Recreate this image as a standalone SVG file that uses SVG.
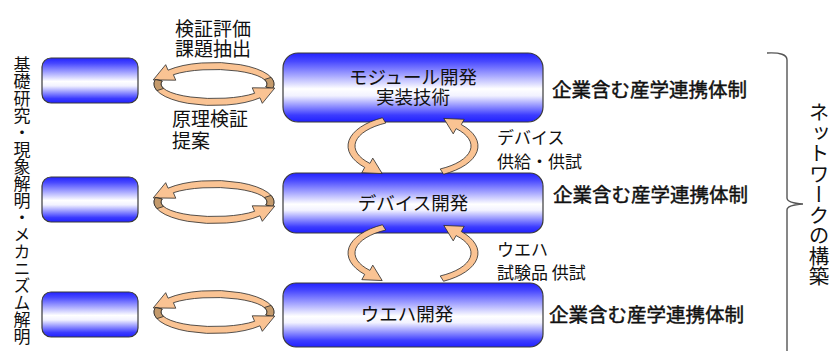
<svg xmlns="http://www.w3.org/2000/svg" width="839" height="351" viewBox="0 0 839 351">
<style>
.box{fill:url(#bg);stroke:#3a3a3a;stroke-width:1.2}
.t{font-family:"Noto Sans CJK JP","Noto Sans CJK SC",sans-serif;fill:#111}
.b{stroke:#111;stroke-width:0.45}
.arr{fill:#fac393;stroke:#2a2a2a;stroke-width:0.8;stroke-linejoin:round}
.dk{fill:#c49a6c;stroke:#2a2a2a;stroke-width:0.8;stroke-linejoin:round}
</style>
<defs>
<linearGradient id="bg" x1="0" y1="0" x2="0" y2="1">
<stop offset="0" stop-color="#2222ff"/>
<stop offset="0.12" stop-color="#4848ff"/>
<stop offset="0.52" stop-color="#ffffff"/>
<stop offset="0.62" stop-color="#f2f2ff"/>
<stop offset="0.9" stop-color="#3c3cff"/>
<stop offset="1" stop-color="#2020ff"/>
</linearGradient>
<g id="hband">
<path class="arr" d="M58.69,4.47 A60 21.5 0 0 0 -45.96,-13.82 L-48.32,-19.34 L-60.76,-4.1 L-38.24,-3.8 L-40.6,-9.32 A53 14.5 0 0 1 51.84,3.01 Z"/>
<path class="dk" d="M58.69,4.47 A60 21.5 0 0 0 57.06,-6.64 L50.41,-4.48 A53 14.5 0 0 1 51.84,3.01 Z"/>
</g>
<g id="hcyc">
<use href="#hband"/>
<use href="#hband" transform="rotate(180)"/>
</g>
<path id="vband" class="arr" d="M-30.52,-28.25 A65 32 0 0 0 -48.3,21.41 L-51.18,26.67 L-30.8,27.56 L-40.22,12.14 L-43.1,17.4 A58 26 0 0 1 -27.23,-22.96 Z"/>
<g id="vcyc">
<use href="#vband"/>
<use href="#vband" transform="rotate(180)"/>
</g>
</defs>
<rect width="839" height="351" fill="#ffffff"/>

<g id="left-label">
<text class="t" x="22" y="56" font-size="17" style="writing-mode:vertical-rl">基礎研究・現象解明・メカニズム解明</text>
</g>

<g id="basic1"><rect class="box" x="42" y="58" width="96" height="45" rx="9"/></g>
<g id="basic2"><rect class="box" x="42" y="177" width="96" height="45" rx="9"/></g>
<g id="basic3"><rect class="box" x="42" y="292" width="96" height="45" rx="9"/></g>

<g id="module">
<rect class="box" x="283" y="53" width="260" height="69" rx="15"/>
<text class="t" x="413" y="84" font-size="18.5" text-anchor="middle">モジュール開発</text>
<text class="t" x="413" y="104" font-size="18.5" text-anchor="middle">実装技術</text>
</g>
<g id="device">
<rect class="box" x="283" y="173" width="260" height="60" rx="13"/>
<text class="t" x="413" y="210" font-size="18.5" text-anchor="middle">デバイス開発</text>
</g>
<g id="wafer">
<rect class="box" x="283" y="283" width="260" height="64" rx="13"/>
<text class="t" x="407" y="321" font-size="18.5" text-anchor="middle">ウエハ開発</text>
</g>

<g id="connectors">
<use href="#hcyc" transform="translate(214,84)"/>
<use href="#hcyc" transform="translate(214,202)"/>
<use href="#hcyc" transform="translate(214,312)"/>
<use href="#vcyc" transform="translate(413,146)"/>
<use href="#vcyc" transform="translate(413,253)"/>
<path d="M767,53 Q787,52 787,60 L787,198 Q787,203 803,204 Q787,205 787,210 L787,351" fill="none" stroke="#555" stroke-width="1.4"/>
</g>

<g id="labels">
<text class="t" x="175" y="36" font-size="19">検証評価</text>
<text class="t" x="175" y="56" font-size="19">課題抽出</text>
<text class="t" x="172" y="126" font-size="19">原理検証</text>
<text class="t" x="172" y="148" font-size="19">提案</text>
<text class="t" x="497" y="144" font-size="17">デバイス</text>
<text class="t" x="497" y="168" font-size="17">供給・供試</text>
<text class="t" x="497" y="256" font-size="17">ウエハ</text>
<text class="t" x="497" y="279" font-size="17">試験品 供試</text>
<text class="t b" x="552" y="97" font-size="19.5">企業含む産学連携体制</text>
<text class="t b" x="553" y="202" font-size="19.5">企業含む産学連携体制</text>
<text class="t b" x="549" y="322" font-size="19.5">企業含む産学連携体制</text>
</g>

<g id="network-label">
<text class="t" x="819" y="102" font-size="20.5" style="writing-mode:vertical-rl">ネットワークの構築</text>
</g>
</svg>
